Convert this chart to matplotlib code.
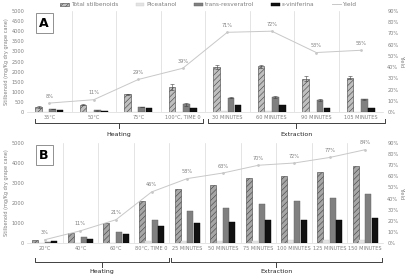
import numpy as np
import matplotlib
matplotlib.use("Agg")
import matplotlib.pyplot as plt
from matplotlib.patches import Patch
from matplotlib.lines import Line2D
import matplotlib.transforms as mtransforms

# --- Panel A data ---
cats_a = ["35°C", "50°C", "75°C", "100°C, TIME 0",
          "30 MINUTES", "60 MINUTES", "90 MINUTES", "105 MINUTES"]
total_a = [250, 370, 880, 1220, 2220, 2270, 1650, 1700]
total_a_err = [40, 40, 30, 150, 90, 80, 130, 70]
pic_a = [10, 15, 20, 20, 50, 30, 20, 15]
tres_a = [150, 90, 250, 380, 720, 750, 580, 630]
tres_a_err = [20, 15, 20, 60, 40, 30, 50, 40]
vin_a = [120, 70, 180, 210, 330, 350, 220, 200]
yield_a = [8, 11, 29, 39, 71, 72, 53, 55]

# --- Panel B data ---
cats_b = ["20°C", "40°C", "60°C", "80°C, TIME 0", "25 MINUTES",
          "50 MINUTES", "75 MINUTES", "100 MINUTES", "125 MINUTES", "150 MINUTES"]
total_b = [170, 500, 1000, 2120, 2700, 2920, 3230, 3350, 3530, 3850]
pic_b = [5, 10, 20, 80, 110, 110, 110, 130, 130, 160]
tres_b = [50, 280, 530, 1170, 1580, 1750, 1950, 2080, 2270, 2470]
vin_b = [110, 220, 460, 870, 1000, 1050, 1150, 1150, 1150, 1250]
yield_b = [3, 11, 21, 46, 58, 63, 70, 72, 77, 84]

plt.rcParams['hatch.linewidth'] = 0.4
fig = plt.figure(figsize=(4.06, 2.74), dpi=100)

TXT = "#7f7f7f"
SEP = "#d9d9d9"


def draw_panel(ax, cats, total, pic, tres, vin, yld, ystep, letter,
               total_err=None, tres_err=None, width=0.17, hatch_fc="#bfbfbf"):
    x = np.arange(len(cats))
    step = width + 0.01
    offs = [-1.5 * step, -0.5 * step, 0.5 * step, 1.5 * step]
    ekw = dict(elinewidth=0.4, capthick=0.4, ecolor="#404040")
    ax.bar(x + offs[0], total, width, color=hatch_fc, edgecolor="#404040",
           hatch="//////", linewidth=0.4, yerr=total_err, capsize=1.2, error_kw=ekw, zorder=3)
    ax.bar(x + offs[1], pic, width, color="#e3e3e3", edgecolor="#cfcfcf", linewidth=0.3, zorder=3)
    ax.bar(x + offs[2], tres, width, color="#808080", edgecolor="#606060", linewidth=0.3,
           yerr=tres_err, capsize=1.2, error_kw=ekw, zorder=3)
    ax.bar(x + offs[3], vin, width, color="#111111", edgecolor="#000000", linewidth=0.3, zorder=3)

    for b in np.arange(len(cats) - 1) + 0.5:
        ax.axvline(b, color=SEP, lw=0.5, zorder=1)

    ax.set_xlim(-0.5, len(cats) - 0.5)
    ax.set_ylim(0, 5000)
    ax.set_yticks(np.arange(0, 5001, ystep))
    ax.set_xticks(x)
    ax.set_xticklabels(cats)
    ax.tick_params(axis="both", labelsize=3.6, colors=TXT, length=0, pad=2)
    ax.set_ylabel("Stilbenoid (mg/Kg dry grape cane)", fontsize=3.6, color=TXT, labelpad=2)
    for s in ["top", "right", "left"]:
        ax.spines[s].set_visible(False)
    ax.spines["bottom"].set_color(SEP)
    ax.spines["bottom"].set_linewidth(0.5)

    ax2 = ax.twinx()
    ax2.plot(x, yld, color="#c8c8c8", lw=0.7, marker="o", ms=1.0, zorder=4)
    for xi, yi in zip(x, yld):
        ax2.text(xi, yi + 4, f"{yi}%", ha="center", va="bottom", fontsize=3.6, color=TXT)
    ax2.set_ylim(0, 90)
    ax2.set_yticks(np.arange(0, 91, 10))
    ax2.set_yticklabels([f"{v}%" for v in range(0, 91, 10)])
    ax2.tick_params(axis="y", labelsize=3.6, colors=TXT, length=0, pad=3)
    ax2.set_ylabel("Yield", fontsize=3.6, color=TXT, rotation=270, labelpad=4)
    for s in ax2.spines.values():
        s.set_visible(False)

    ax.text(0.048, 0.88, letter, transform=ax.transAxes, fontsize=9, fontweight="bold",
            ha="center", va="center",
            bbox=dict(boxstyle="square,pad=0.3", fc="white", ec="#7f7f7f", lw=0.6))
    return ax2


def bracket(ax, x0, x1, y, label, ylab):
    tr = mtransforms.blended_transform_factory(ax.transData, ax.transAxes)
    xm = (x0 + x1) / 2
    ax.plot([x0, x0, x1, x1], [y + 0.04, y, y, y + 0.04], color="#404040", lw=0.7,
            transform=tr, clip_on=False)
    ax.plot([xm, xm], [y, y - 0.05], color="#404040", lw=0.7, transform=tr, clip_on=False)
    ax.text(xm, ylab, label, transform=tr, ha="center", va="center", fontsize=4.5, color="#222222")


ax_a = fig.add_axes([0.0665, 0.591, 0.877, 0.369])
draw_panel(ax_a, cats_a, total_a, pic_a, tres_a, vin_a, yield_a, 500, "A",
           total_err=total_a_err, tres_err=tres_a_err, width=0.15)
bracket(ax_a, -0.32, 3.45, -0.11, "Heating", -0.22)
bracket(ax_a, 3.57, 7.54, -0.11, "Extraction", -0.22)

ax_b = fig.add_axes([0.0665, 0.113, 0.877, 0.365])
draw_panel(ax_b, cats_b, total_b, pic_b, tres_b, vin_b, yield_b, 1000, "B",
           width=0.17, hatch_fc="#a6a6a6")
bracket(ax_b, -0.28, 3.48, -0.19, "Heating", -0.28)
bracket(ax_b, 3.54, 9.47, -0.19, "Extraction", -0.28)

handles = [
    Patch(facecolor="#bfbfbf", edgecolor="#404040", hatch="//////", linewidth=0.4),
    Patch(facecolor="#e3e3e3", edgecolor="#cfcfcf", linewidth=0.3),
    Patch(facecolor="#808080", edgecolor="#606060", linewidth=0.3),
    Patch(facecolor="#111111", edgecolor="#000000", linewidth=0.3),
    Line2D([0], [0], color="#c8c8c8", lw=0.7),
]
labels = ["Total stilbenoids", "Piceatanol", "trans-resveratrol", "ε-viniferina", "Yield"]
fig.legend(handles, labels, loc="center", bbox_to_anchor=(0.513, 0.982), ncol=5,
           fontsize=4.2, frameon=False, handlelength=1.5, handleheight=0.6,
           columnspacing=3.0, handletextpad=0.3, labelcolor=TXT)

fig.savefig("out.png", dpi=100)
